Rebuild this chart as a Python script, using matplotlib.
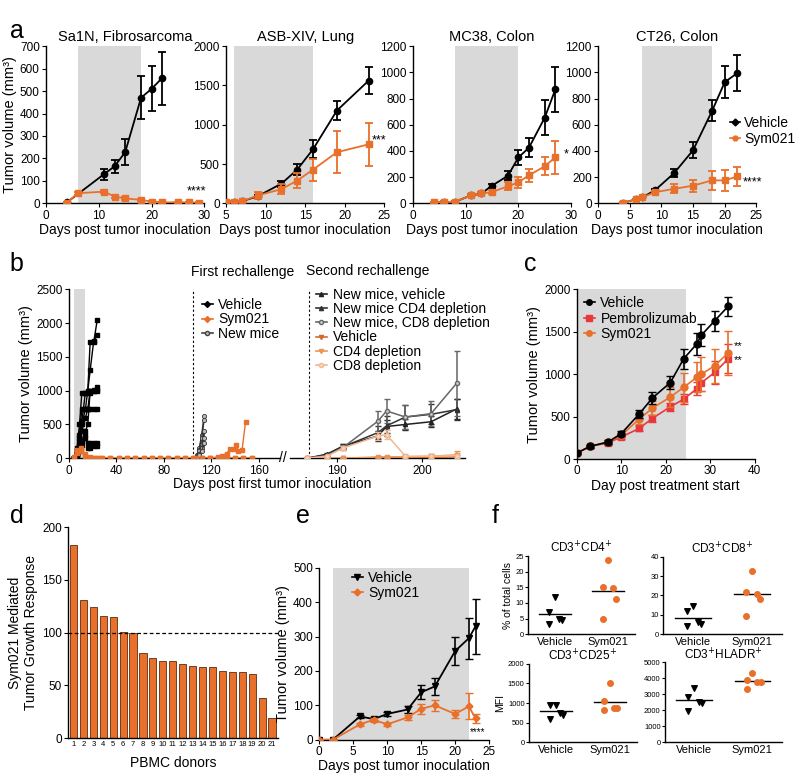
import numpy as np
import matplotlib
matplotlib.use("Agg")
import matplotlib.pyplot as plt
from matplotlib.lines import Line2D

plt.rcParams['font.family'] = ['Liberation Sans', 'DejaVu Sans']
plt.rcParams['axes.linewidth'] = 1.0
plt.rcParams['xtick.major.size'] = 3
plt.rcParams['ytick.major.size'] = 3

ORANGE = '#e8702a'
RED = '#e8383d'
GRAY_BAND = '#d9d9d9'

# ---------------- panel a data ----------------
a_titles = ["Sa1N, Fibrosarcoma", "ASB-XIV, Lung", "MC38, Colon", "CT26, Colon"]

sa1n_veh_days = [4, 11, 13, 15, 18, 20, 22]
sa1n_veh = [5, 130, 165, 228, 470, 510, 558]
sa1n_veh_err = [3, 25, 28, 58, 95, 100, 118]
sa1n_sym_days = [4, 6, 11, 13, 15, 18, 20, 22, 25, 27, 29]
sa1n_sym = [3, 45, 52, 30, 22, 15, 8, 4, 5, 4, 3]
sa1n_sym_err = [2, 6, 8, 8, 6, 5, 4, 3, 3, 3, 2]

asb_days = [5, 6, 7, 9, 12, 14, 16, 19, 23]
asb_veh = [15, 20, 25, 90, 250, 430, 690, 1180, 1560]
asb_veh_err = [5, 5, 8, 20, 40, 70, 110, 120, 170]
asb_sym = [15, 20, 25, 100, 180, 290, 430, 650, 750]
asb_sym_err = [5, 5, 8, 40, 60, 90, 140, 270, 270]

mc38_days = [4, 6, 8, 11, 13, 15, 18, 20, 22, 25, 27]
mc38_veh = [5, 10, 12, 60, 75, 135, 210, 350, 425, 655, 870]
mc38_veh_err = [3, 4, 5, 10, 12, 15, 35, 55, 75, 130, 170]
mc38_sym = [8, 10, 12, 60, 75, 86, 130, 160, 214, 283, 352]
mc38_sym_err = [4, 4, 5, 10, 12, 15, 30, 40, 50, 70, 125]

ct26_days = [4, 6, 7, 9, 12, 15, 18, 20, 22]
ct26_veh = [5, 30, 45, 100, 230, 405, 705, 925, 995]
ct26_veh_err = [3, 5, 6, 10, 30, 60, 80, 120, 135]
ct26_sym = [5, 30, 45, 85, 110, 135, 175, 175, 205]
ct26_sym_err = [3, 5, 6, 10, 35, 45, 75, 80, 75]

a_xlims = [(0, 30), (5, 25), (0, 30), (0, 25)]
a_xticks = [[0, 10, 20, 30], [5, 10, 15, 20, 25], [0, 10, 20, 30], [0, 5, 10, 15, 20, 25]]
a_ylims = [700, 2000, 1200, 1200]
a_ysteps = [100, 500, 200, 200]
a_bands = [(6, 18), (6, 16), (8, 20), (7, 18)]
a_stars = ["****", "***", "*", "****"]
a_star_pos = [(26.6, 40), (23.4, 760), (28.6, 350), (22.8, 140)]

# ---------------- panel b data ----------------
b_veh_days = [4, 7, 9, 11, 14, 16, 18, 21, 24]
b_veh_mice = [
    [10, 150, 500, 970, 970, 1000, 1720, 1720, 2050],
    [10, 100, 350, 730, 730, 1000, 1300, 1740, 1820],
    [10, 80, 250, 500, 730, 730, 1000, 1000, 1000],
    [10, 50, 200, 400, 600, 730, 730, 730, 730],
    [10, 60, 150, 250, 400, 500, 1000, 1000, 1050],
    [10, 30, 100, 200, 300, 220, 220, 220, 220],
    [10, 120, 300, 550, 970, 970, 970, 1010, 1010],
    [10, 40, 120, 250, 350, 150, 150, 180, 180],
]
b_sym_days = [4, 7, 10, 14, 18, 21, 25, 28, 35, 42, 49, 56, 63, 70, 77, 84,
              91, 98, 105, 112, 119, 126, 133, 140, 147, 154]
b_sym_mice = [
    [20, 120, 150, 60, 20, 5, 0, 0, 0, 0, 0, 0, 0, 0, 0, 0, 0, 0, 0, 0, 0, 0, 0, 0, 0, 0],
    [10, 80, 100, 30, 10, 0, 5, 0, 5, 0, 5, 0, 0, 5, 0, 0, 5, 0, 0, 5, 0, 5, 0, 5, 0, 5],
]
b_spike_days = [106, 112, 119, 126, 129, 133, 136, 139, 141, 143, 146, 149]
b_spike = [0, 0, 0, 20, 40, 70, 140, 140, 190, 110, 120, 540]
b_new_days = [106, 108, 110, 112, 114]
b_new_mice = [
    [0, 50, 150, 350, 620],
    [0, 40, 120, 300, 560],
    [0, 30, 100, 200, 400],
    [0, 20, 60, 150, 300],
    [0, 10, 50, 100, 220],
]
b_first_rechallenge = 105
b_second_rechallenge = 186.7

b2_days = [186.5, 188.8, 190.7, 194.8, 195.8, 198, 201, 204]
b2_labels = ["New mice, vehicle", "New mice CD4 depletion", "New mice, CD8 depletion",
             "Vehicle", "CD4 depletion", "CD8 depletion"]
b2_vals = [
    [0, 60, 180, 330, 470, 500, 540, 730],
    [0, 50, 170, 380, 480, 610, 650, 720],
    [0, 40, 160, 550, 700, 610, 660, 1110],
    [0, 0, 0, 10, 10, 10, 10, 20],
    [0, 0, 0, 20, 20, 20, 30, 50],
    [0, 30, 150, 330, 350, 30, 30, 40],
]
b2_errs = [
    [0, 20, 30, 80, 100, 80, 80, 150],
    [0, 20, 40, 100, 150, 180, 150, 150],
    [0, 20, 40, 150, 180, 180, 180, 480],
    [0, 0, 0, 10, 10, 15, 15, 30],
    [0, 0, 0, 15, 20, 25, 30, 60],
    [0, 10, 30, 60, 70, 30, 30, 40],
]

# ---------------- panel c data ----------------
c_days = [0, 3, 7, 10, 14, 17, 21, 24, 27, 28, 31, 34]
c_veh = [70, 150, 200, 300, 530, 720, 900, 1180, 1360, 1460, 1630, 1800]
c_veh_err = [10, 15, 20, 30, 50, 70, 80, 120, 130, 130, 120, 110]
c_pem = [70, 150, 190, 260, 360, 480, 615, 705, 830, 900, 1020, 1180]
c_pem_err = [10, 15, 20, 20, 30, 40, 50, 60, 80, 100, 130, 170]
c_sym = [70, 150, 200, 280, 470, 600, 730, 845, 965, 1000, 1100, 1250]
c_sym_err = [10, 15, 20, 25, 60, 80, 120, 170, 180, 200, 200, 260]

# ---------------- panel d data ----------------
d_donors = list(range(1, 22))
d_response = [183, 131, 124, 116, 115, 101, 100, 81, 76, 73, 73, 70, 68, 67, 67,
              64, 63, 63, 61, 38, 19]

# ---------------- panel e data ----------------
e_days = [0, 2, 6, 8, 10, 13, 15, 17, 20, 22, 23]
e_veh = [0, 0, 68, 60, 75, 88, 138, 155, 258, 295, 330]
e_veh_err = [0, 0, 5, 5, 5, 10, 20, 25, 40, 60, 80]
e_sym = [0, 0, 45, 58, 45, 65, 90, 100, 75, 97, 62]
e_sym_err = [0, 0, 5, 5, 5, 8, 15, 15, 12, 38, 12]

# ---------------- panel f data ----------------
f_titles = ["CD3$^{+}$CD4$^{+}$", "CD3$^{+}$CD8$^{+}$", "CD3$^{+}$CD25$^{+}$", "CD3$^{+}$HLADR$^{+}$"]
f_groups = ["Vehicle", "Sym021"]
f_vehicle = [[12, 7, 5, 4.5, 3.3], [14.5, 12, 6.5, 5.5, 4],
             [960, 950, 740, 690, 600], [3400, 2850, 2500, 2450, 1950]]
f_sym021 = [[23.7, 15, 14.7, 11.3, 5], [32.5, 22, 21, 18, 9.5],
            [1500, 1050, 880, 860, 810], [4350, 3900, 3750, 3750, 3300]]
f_ylims = [25, 40, 2000, 5000]
f_ysteps = [5, 10, 500, 1000]


def clean(ax):
    ax.spines['top'].set_visible(False)
    ax.spines['right'].set_visible(False)


def handle(color, marker, label, ms=4, mfc=None):
    # legend entry: line + marker, no error bar
    return Line2D([], [], color=color, marker=marker, ms=ms, lw=1.2,
                  mfc=mfc if mfc else color, label=label)


fig = plt.figure(figsize=(8, 7.82), dpi=100)

# ================= panel a =================
a_lefts = [0.0575, 0.2825, 0.516, 0.7475]
a_series = [
    (sa1n_veh_days, sa1n_veh, sa1n_veh_err, sa1n_sym_days, sa1n_sym, sa1n_sym_err),
    (asb_days, asb_veh, asb_veh_err, asb_days, asb_sym, asb_sym_err),
    (mc38_days, mc38_veh, mc38_veh_err, mc38_days, mc38_sym, mc38_sym_err),
    (ct26_days, ct26_veh, ct26_veh_err, ct26_days, ct26_sym, ct26_sym_err),
]
for i in range(4):
    ax = fig.add_axes([a_lefts[i], 0.740, 0.198, 0.201])
    clean(ax)
    vd, vv, ve, sd, sv, se = a_series[i]
    ax.axvspan(*a_bands[i], color=GRAY_BAND, lw=0, zorder=0)
    ax.errorbar(vd, vv, yerr=ve, color='black', marker='o', ms=4.5, lw=1.3,
                capsize=3, elinewidth=1.3, capthick=1.3, zorder=3)
    ax.errorbar(sd, sv, yerr=se, color=ORANGE, marker='s', ms=4.5, lw=1.3,
                capsize=3, elinewidth=1.3, capthick=1.3, zorder=4)
    ax.set_xlim(*a_xlims[i])
    ax.set_xticks(a_xticks[i])
    ax.set_ylim(0, a_ylims[i])
    ax.set_yticks(np.arange(0, a_ylims[i] + 1, a_ysteps[i]))
    ax.tick_params(labelsize=8.5, pad=1.5)
    ax.set_title(a_titles[i], fontsize=10.5, pad=4)
    ax.set_xlabel("Days post tumor inoculation", fontsize=10, labelpad=1)
    ax.text(a_star_pos[i][0], a_star_pos[i][1], a_stars[i], fontsize=9, ha='left')
    if i == 0:
        ax.set_ylabel("Tumor volume (mm³)", fontsize=10.5, labelpad=2)
    if i == 3:
        ax.legend(handles=[handle('black', 'D', 'Vehicle', ms=3.5),
                           handle(ORANGE, 'o', 'Sym021', ms=3.5)],
                  loc='center left', bbox_to_anchor=(0.8, 0.46), frameon=False,
                  fontsize=10, handlelength=0.7, handletextpad=0.3,
                  labelspacing=0.15, borderaxespad=0)
fig.text(0.012, 0.96, "a", fontsize=18, va='center')

# ================= panel b =================
axb1 = fig.add_axes([0.086, 0.414, 0.264, 0.216])
axb2 = fig.add_axes([0.3625, 0.414, 0.219, 0.216])
clean(axb1)
clean(axb2)
axb2.spines['left'].set_visible(False)
axb2.set_yticks([])

axb1.axvspan(4, 14, color=GRAY_BAND, lw=0, zorder=0)
for mouse in b_veh_mice:
    axb1.plot(b_veh_days, mouse, color='black', marker='s', ms=3, lw=1.0, zorder=3)
for mouse in b_sym_mice:
    axb1.plot(b_sym_days, mouse, color=ORANGE, marker='s', ms=2.5, lw=1.0, zorder=4)
axb1.plot(b_spike_days, b_spike, color=ORANGE, marker='s', ms=2.5, lw=1.0, zorder=4)
for mouse in b_new_mice:
    axb1.plot(b_new_days, mouse, color='#333333', marker='o', ms=3, mfc='#bbbbbb',
              mew=0.6, lw=1.0, zorder=3)
axb1.axvline(b_first_rechallenge, color='black', ls=(0, (2, 2)), lw=0.8)
axb1.set_xlim(0, 178)
axb1.set_xticks([0, 40, 80, 120, 160])
axb1.set_ylim(0, 2500)
axb1.set_yticks(np.arange(0, 2501, 500))
axb1.tick_params(labelsize=8.5, pad=1.5)
axb1.set_ylabel("Tumor volume (mm³)", fontsize=10.5, labelpad=2)
axb1.text(b_first_rechallenge - 2, 2700, "First rechallenge", fontsize=10, ha='left')
axb1.legend(handles=[handle('black', 'D', 'Vehicle', ms=3),
                     handle(ORANGE, 'D', 'Sym021', ms=3),
                     handle('#444444', 'o', 'New mice', ms=3, mfc='#bbbbbb')],
            loc='upper left', bbox_to_anchor=(0.59, 1.0),
            frameon=False, fontsize=10, handlelength=0.8, handletextpad=0.4,
            labelspacing=0.05, borderaxespad=0.2)

b2_colors = ['#222222', '#333333', '#666666', '#d36a2a', '#e8955a', '#f0b895']
b2_markers = ['^', '^', 'o', 'v', 'v', 'o']
b2_mfc = ['#222222', '#333333', '#cccccc', '#d36a2a', '#e8955a', '#f8d8c0']
b2_handles = []
for k in range(6):
    axb2.errorbar(b2_days, b2_vals[k], yerr=b2_errs[k], color=b2_colors[k],
                  marker=b2_markers[k], ms=3, mfc=b2_mfc[k], lw=1.1, capsize=2.5,
                  elinewidth=1.1, zorder=3 if k < 3 else 4)
    b2_handles.append(handle(b2_colors[k], b2_markers[k], b2_labels[k], ms=3, mfc=b2_mfc[k]))
axb2.axvline(b_second_rechallenge, color='black', ls=(0, (2, 2)), lw=0.8)
axb2.set_xlim(184.5, 205)
axb2.set_xticks([190, 200])
axb2.set_ylim(0, 2500)
axb2.tick_params(labelsize=8.5, pad=1.5)
axb2.text(b_second_rechallenge - 0.3, 2710, "Second rechallenge", fontsize=10, ha='left')
axb2.legend(handles=b2_handles, loc='upper left', bbox_to_anchor=(0.1, 1.06), frameon=False,
            fontsize=10, handlelength=0.8, handletextpad=0.4, labelspacing=0.02,
            borderaxespad=0.2)
fig.text(0.3535, 0.414, "//", fontsize=10, ha='center', va='center')
fig.text(0.34, 0.381, "Days post first tumor inoculation", fontsize=10, ha='center', va='center')
fig.text(0.012, 0.663, "b", fontsize=18, va='center')

# ================= panel c =================
axc = fig.add_axes([0.721, 0.413, 0.2225, 0.217])
clean(axc)
axc.axvspan(0, 24.5, color=GRAY_BAND, lw=0, zorder=0)
axc.errorbar(c_days, c_veh, yerr=c_veh_err, color='black', marker='o', ms=5, lw=1.2,
             capsize=3, elinewidth=1.2, zorder=5)
axc.errorbar(c_days, c_pem, yerr=c_pem_err, color=RED, marker='s', ms=4.5, lw=1.2,
             capsize=3, elinewidth=1.2, zorder=3)
axc.errorbar(c_days, c_sym, yerr=c_sym_err, color=ORANGE, marker='o', ms=5, lw=1.2,
             capsize=3, elinewidth=1.2, zorder=4)
axc.set_xlim(0, 40)
axc.set_xticks([0, 10, 20, 30, 40])
axc.set_ylim(0, 2000)
axc.set_yticks(np.arange(0, 2001, 500))
axc.tick_params(labelsize=8.5, pad=1.5)
axc.set_ylabel("Tumor volume (mm³)", fontsize=10.5, labelpad=2)
axc.set_xlabel("Day post treatment start", fontsize=10, labelpad=1)
axc.text(35.3, 1330, "**", fontsize=8, va='center')
axc.text(35.3, 1170, "**", fontsize=8, va='center')
axc.legend(handles=[handle('black', 'o', 'Vehicle'), handle(RED, 's', 'Pembrolizumab'),
                    handle(ORANGE, 'o', 'Sym021')],
           loc='upper left', frameon=False, fontsize=10, handlelength=0.8,
           handletextpad=0.4, labelspacing=0.1, borderaxespad=0.1)
fig.text(0.655, 0.663, "c", fontsize=18, va='center')

# ================= panel d =================
axd = fig.add_axes([0.085, 0.056, 0.2625, 0.27])
clean(axd)
axd.bar(d_donors, d_response, width=0.72, color=ORANGE, edgecolor='#5a2a10', lw=0.6)
axd.axhline(100, color='black', ls=(0, (3, 2)), lw=0.9)
axd.set_xlim(0.45, 21.6)
axd.set_xticks(d_donors)
axd.set_ylim(0, 200)
axd.set_yticks(np.arange(0, 201, 50))
axd.tick_params(axis='x', labelsize=5.5, length=0, pad=2)
axd.tick_params(axis='y', labelsize=8.5, pad=1.5)
axd.set_ylabel("Sym021 Mediated\nTumor Growth Response", fontsize=10, labelpad=3)
axd.set_xlabel("PBMC donors", fontsize=10, labelpad=6)
fig.text(0.012, 0.34, "d", fontsize=18, va='center')

# ================= panel e =================
axe = fig.add_axes([0.399, 0.054, 0.2125, 0.22])
clean(axe)
axe.axvspan(2, 22, color=GRAY_BAND, lw=0, zorder=0)
axe.errorbar(e_days, e_veh, yerr=e_veh_err, color='black', marker='v', ms=4.5, lw=1.3,
             capsize=3, elinewidth=1.2, zorder=3)
axe.errorbar(e_days, e_sym, yerr=e_sym_err, color=ORANGE, marker='D', ms=3.5, lw=1.3,
             capsize=3, elinewidth=1.2, zorder=4)
axe.set_xlim(0, 25)
axe.set_xticks([0, 5, 10, 15, 20, 25])
axe.set_ylim(0, 500)
axe.set_yticks(np.arange(0, 501, 100))
axe.tick_params(labelsize=8.5, pad=1.5)
axe.set_ylabel("Tumor volume (mm³)", fontsize=10.5, labelpad=2)
axe.set_xlabel("Days post tumor inoculation", fontsize=10, labelpad=1)
axe.text(22.2, 15, "****", fontsize=7)
axe.legend(handles=[handle('black', 'v', 'Vehicle'), handle(ORANGE, 'D', 'Sym021', ms=3.5)],
           loc='upper left', bbox_to_anchor=(0.15, 1.02), frameon=False, fontsize=10,
           handlelength=0.8, handletextpad=0.4, labelspacing=0.05, borderaxespad=0.1)
fig.text(0.37, 0.34, "e", fontsize=18, va='center')

# ================= panel f =================
f_boxes = [[0.66, 0.189, 0.134, 0.1], [0.829, 0.189, 0.148, 0.099],
           [0.661, 0.051, 0.135, 0.1], [0.831, 0.051, 0.146, 0.102]]
jit = [0.0, -0.1, 0.08, 0.14, -0.1]
for i in range(4):
    ax = fig.add_axes(f_boxes[i])
    clean(ax)
    veh = np.array(f_vehicle[i])
    sym = np.array(f_sym021[i])
    ax.scatter(np.array(jit) + 0, veh, marker='v', s=16, color='black', zorder=3)
    ax.scatter(np.array(jit) + 1, sym, marker='o', s=16, color=ORANGE, zorder=3)
    ax.plot([-0.3, 0.3], [veh.mean()] * 2, color='black', lw=1.0)
    ax.plot([0.7, 1.3], [sym.mean()] * 2, color='black', lw=1.0)
    ax.set_xlim(-0.5, 1.5)
    ax.set_xticks([0, 1])
    ax.set_xticklabels(f_groups)
    ax.set_ylim(0, f_ylims[i])
    ax.set_yticks(np.arange(0, f_ylims[i] + 1, f_ysteps[i]))
    ax.tick_params(axis='y', labelsize=5.5, pad=1, length=2)
    ax.tick_params(axis='x', labelsize=8, pad=2, length=0)
    ax.set_title(f_titles[i], fontsize=8.5, pad=2)
    if i == 0:
        ax.set_ylabel("% of total cells", fontsize=7.5, labelpad=2)
    if i == 2:
        ax.set_ylabel("MFI", fontsize=7.5, labelpad=2)
fig.text(0.615, 0.34, "f", fontsize=18, va='center')

fig.savefig("out.png", dpi=100)
